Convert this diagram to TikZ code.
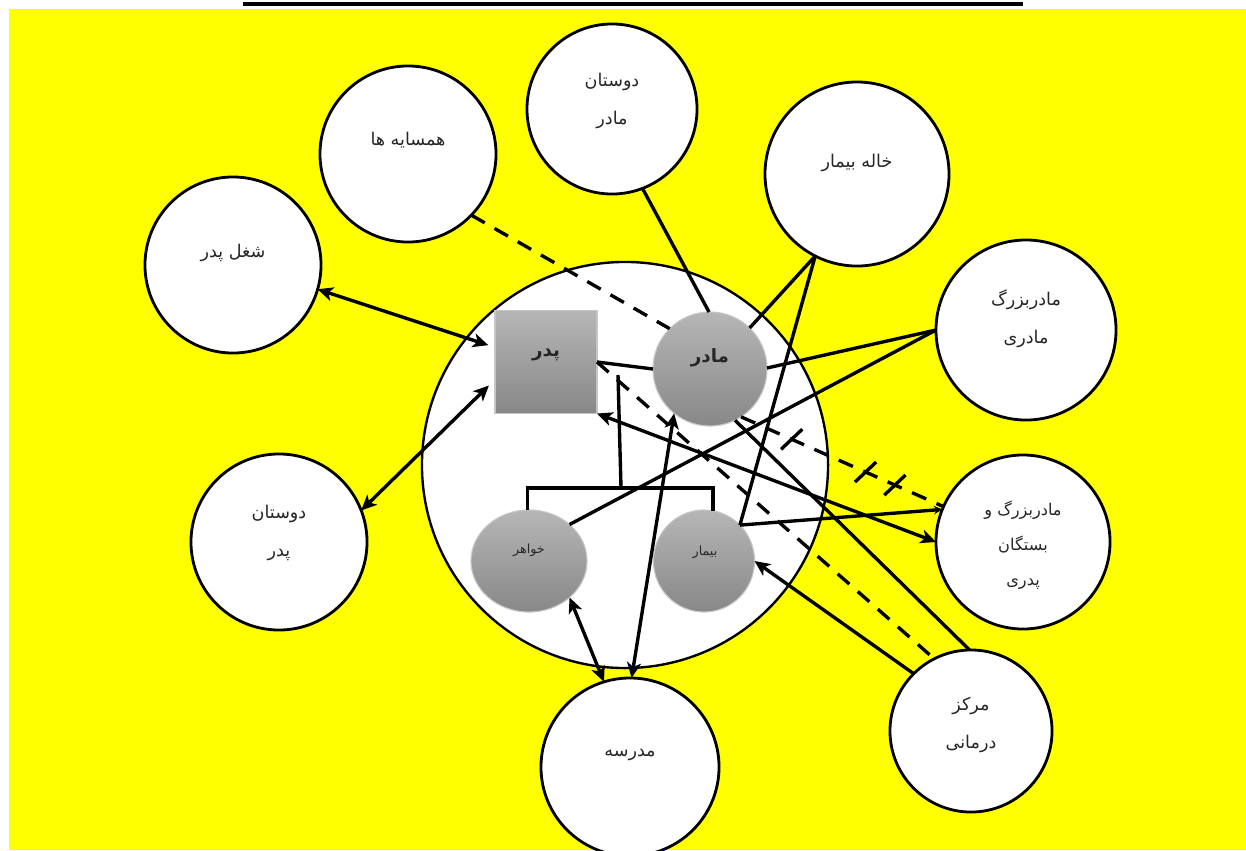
\documentclass[tikz,border=0pt]{standalone}
\usepackage{fontspec}
\usepackage{tikz}
\usetikzlibrary{arrows.meta,shapes.geometric,decorations.markings}
\newfontfamily\arabicfont[Script=Arabic]{DejaVu Sans}
\TeXXeTstate=1
\newcommand{\fa}[1]{{\arabicfont\beginR #1\endR}}
\definecolor{zard}{RGB}{255,255,0}
\definecolor{roshan}{RGB}{182,182,182}
\definecolor{tireh}{RGB}{136,136,136}

\tikzset{
  bubble/.style={circle, draw=black, fill=white, line width=2pt, minimum size=#1, inner sep=0pt, outer sep=0pt},
  member/.style={top color=roshan, bottom color=tireh, draw=gray!45, line width=0.8pt, inner sep=0pt, outer sep=0pt},
  matn/.style={align=center, text=black!85, font=\fontsize{12.5}{27}\selectfont},
  tie/.style={line width=2.4pt},
  weak/.style={tie, dash pattern=on 11pt off 8pt},
  conflict/.style={weak, postaction={decorate, decoration={markings,
      mark=at position 0.25 with {\draw[solid, line width=2.4pt] (-4pt,-9.6pt) -- (4pt,9.6pt);},
      mark=at position 0.615 with {\draw[solid, line width=2.4pt] (-4pt,-9.6pt) -- (4pt,9.6pt);},
      mark=at position 0.76 with {\draw[solid, line width=2.4pt] (-4pt,-9.6pt) -- (4pt,9.6pt);}}}}
}

\begin{document}
\begin{tikzpicture}[x=0.025cm, y=-0.025cm, >={Stealth[length=11pt,width=10pt,inset=3pt]}]
\useasboundingbox (0,0) rectangle (1246,850);
\fill[zard] (9,9) rectangle (1246,850);
\draw[line width=2.5pt] (243,4) -- (1023,4);

% outer circles
\node[bubble=4.4cm] (hamsaye) at (408,154) {};
\node[bubble=4.25cm] (dustanM) at (612,109) {};
\node[bubble=4.6cm] (khale) at (857,174) {};
\node[bubble=4.5cm] (mbM) at (1026,330) {};
\node[bubble=4.35cm] (mbP) at (1023,542) {};
\node[bubble=4.05cm] (markaz) at (971,731) {};
\node[bubble=4.45cm] (madrese) at (630,767) {};
\node[bubble=4.4cm] (dustanP) at (279,542) {};
\node[bubble=4.4cm] (shoghl) at (233,265) {};
\node[bubble=10.15cm, line width=1.7pt] (khanevade) at (625,465) {};

% family
\node[member, rectangle, minimum width=2.55cm, minimum height=2.575cm] (pedar) at (546,362) {};
\node[member, circle, minimum size=2.85cm] (madar) at (710,369) {};
\node[member, ellipse, minimum width=2.9cm, minimum height=2.55cm] (khahar) at (529,561) {};
\node[member, ellipse, minimum width=2.525cm, minimum height=2.55cm] (bimar) at (704,561) {};

\node[matn] (hamsaye-t) at (408,140) {\fa{همسایه ها}};
\node[matn] (dustanM-t) at (612,101) {\fa{دوستان}\\\fa{مادر}};
\node[matn] (khale-t) at (857,163) {\fa{خاله بیمار}};
\node[matn] (mbM-t) at (1026,319) {\fa{مادربزرگ}\\\fa{مادری}};
\node[matn, font=\fontsize{11.5}{25}\selectfont] (mbP-t) at (1023,545) {\fa{مادربزرگ و}\\\fa{بستگان}\\\fa{پدری}};
\node[matn] (markaz-t) at (971,725) {\fa{مرکز}\\\fa{درمانی}};
\node[matn] (madrese-t) at (630,755) {\fa{مدرسه}};
\node[matn] (dustanP-t) at (279,533) {\fa{دوستان}\\\fa{پدر}};
\node[matn] (shoghl-t) at (233,253) {\fa{شغل پدر}};
\node[matn, font=\fontsize{13}{15}\selectfont\bfseries] (pedar-t) at (546,355) {\fa{پدر}};
\node[matn, font=\fontsize{13}{15}\selectfont\bfseries] (madar-t) at (710,358) {\fa{مادر}};
\node[matn, font=\fontsize{9}{11}\selectfont] (khahar-t) at (529,550) {\fa{خواهر}};
\node[matn, font=\fontsize{9}{11}\selectfont] (bimar-t) at (705,552) {\fa{بیمار}};

% marriage and children
\coordinate (ezdevaj) at (618,375);
\coordinate (farzand) at (621,488);
\draw[tie] (madar.west) -- (pedar.east);
\draw[tie] (farzand) -- (ezdevaj);
\draw[line width=2.4pt] (khahar.92) -- ++(0,-22) -| (bimar.80);

% ties
\draw[weak] (hamsaye.316) -- (madar.135);
\draw[tie] (dustanM.291) -- (madar.91);
\draw[tie] (khale.243) -- (madar.46);
\draw[tie] (khale.243) -- (bimar.45);
\draw[tie, -{Stealth[length=6pt,width=6pt]}] (bimar.45) -- (mbP.158);
\draw[tie] (mbM.180) -- (madar.1);
\draw[tie] (mbM.180) -- (khahar.42);
\draw[tie, <->] (pedar.south east) -- (mbP.180);
\draw[weak] (pedar.east) -- (markaz.117);
\draw[conflict] (madar.303) -- (mbP.156);
\draw[tie] (madar.296) -- (markaz.91);
\draw[tie, ->] (markaz.135) -- (bimar.0);
\draw[tie, <->, shorten >=5pt] (shoghl.344) -- (pedar.164);
\draw[tie, <->, shorten >=6pt] (dustanP.21) -- (pedar.199);
\draw[tie, <->] (khahar.318) -- (madrese.107);
\draw[tie, <->] (madar.231) -- (madrese.89);
\end{tikzpicture}
\end{document}
